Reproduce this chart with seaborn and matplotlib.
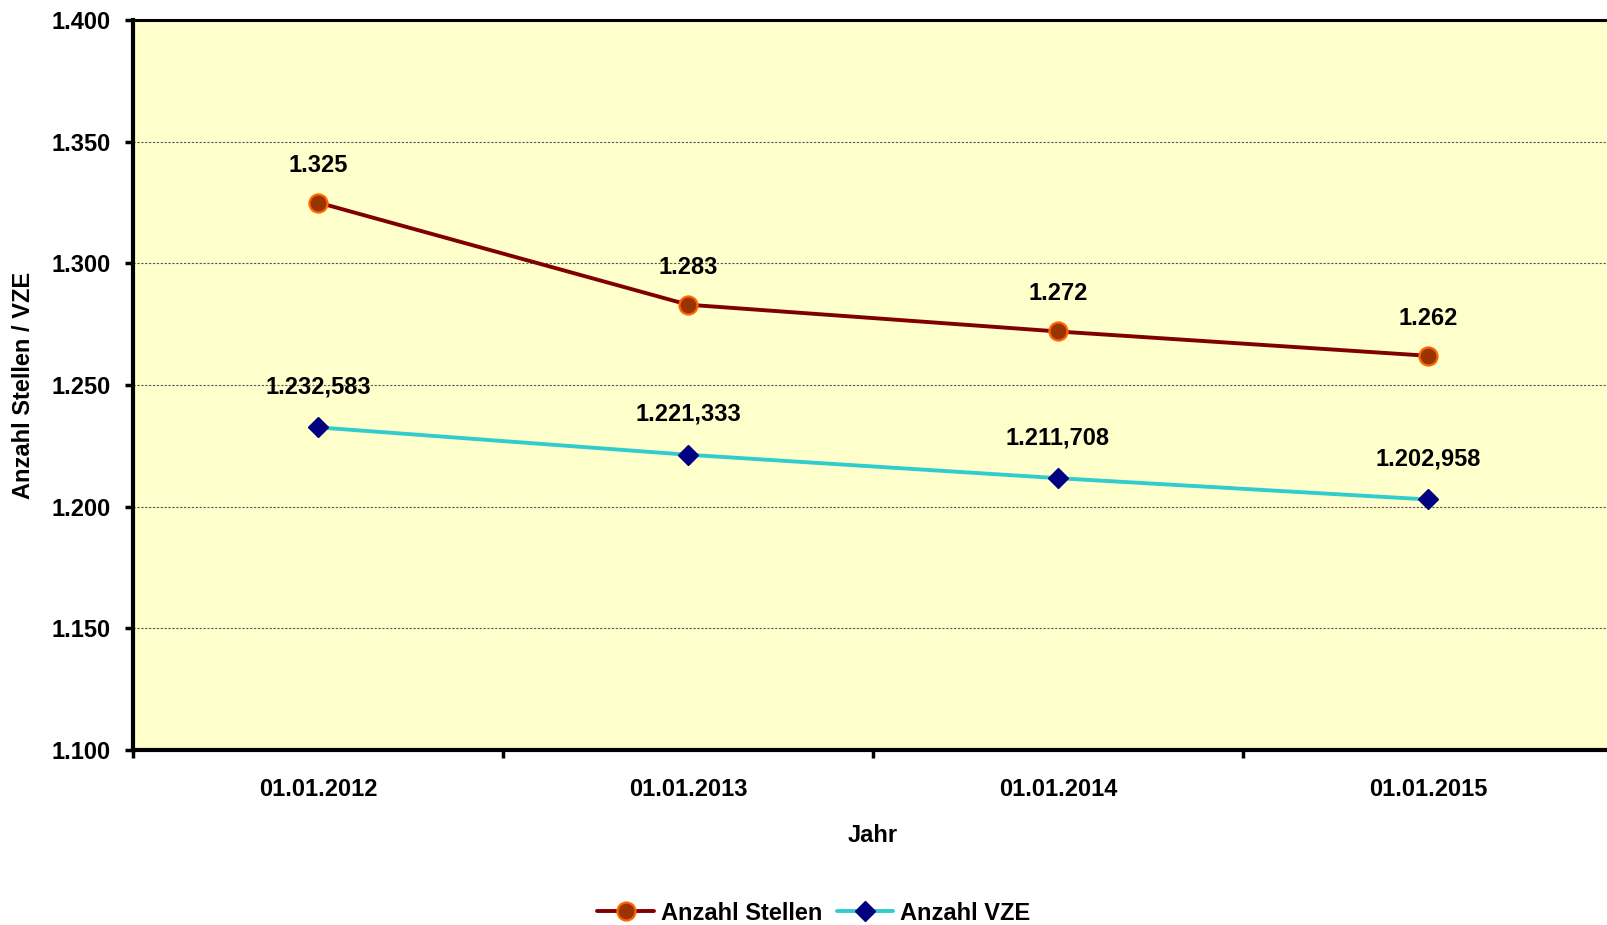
import numpy as np
import pandas as pd
import seaborn as sns
import matplotlib.pyplot as plt
from matplotlib.ticker import FixedLocator, FuncFormatter

jahre = ['01.01.2012', '01.01.2013', '01.01.2014', '01.01.2015']
stellen = [1325, 1283, 1272, 1262]
vze = [1232.583, 1221.333, 1211.708, 1202.958]

df = pd.DataFrame({'pos': np.arange(len(jahre)), 'jahr': jahre, 'stellen': stellen, 'vze': vze})


def de_fmt(v, dec=0):
    # German number format: 1.232,583
    s = f"{v:,.{dec}f}"
    return s.replace(',', 'X').replace('.', ',').replace('X', '.')


sns.set_style('white')
plt.rcParams['font.family'] = ['Liberation Sans', 'DejaVu Sans']
plt.rcParams['font.weight'] = 'bold'
for key in ['text.color', 'axes.labelcolor', 'xtick.color', 'ytick.color']:
    plt.rcParams[key] = 'black'

fig = plt.figure(figsize=(16.08, 9.25), dpi=100)
ax = fig.add_axes([133 / 1608, 175 / 925, 1480 / 1608, 730 / 925])
ax.set_facecolor('#FFFFCC')

sns.lineplot(data=df, x='pos', y='stellen', ax=ax, color='#800000', lw=2.8,
             marker='o', markersize=13, markerfacecolor='#993300',
             markeredgecolor='#FF6600', markeredgewidth=1.6,
             label='Anzahl Stellen', zorder=4)
sns.lineplot(data=df, x='pos', y='vze', ax=ax, color='#33CCCC', lw=2.8,
             marker='D', markersize=10.5, markerfacecolor='#000080',
             markeredgecolor='#000080', markeredgewidth=1,
             label='Anzahl VZE', zorder=4)

for x, v in zip(df['pos'], stellen):
    ax.annotate(de_fmt(v), (x, v), xytext=(0, 27), textcoords='offset points',
                ha='center', va='center', fontsize=17, fontweight='bold', zorder=5)
for x, v in zip(df['pos'], vze):
    ax.annotate(de_fmt(v, 3), (x, v), xytext=(0, 29), textcoords='offset points',
                ha='center', va='center', fontsize=17, fontweight='bold', zorder=5)

ax.set_xlim(-0.5, 3.5)
ax.set_ylim(1100, 1400)
ax.yaxis.set_major_locator(FixedLocator(np.arange(1100, 1401, 50)))
ax.yaxis.set_major_formatter(FuncFormatter(lambda v, p: de_fmt(v)))
ax.grid(axis='y', color='#555555', lw=0.8, linestyle=(0, (2, 1.5)))
ax.set_axisbelow(True)

# tick marks between categories, labels at the category centres
ax.xaxis.set_major_locator(FixedLocator(np.arange(-0.5, 3.6, 1)))
ax.xaxis.set_major_formatter(FuncFormatter(lambda v, p: ''))
ax.xaxis.set_minor_locator(FixedLocator(df['pos']))
ax.set_xticklabels(jahre, minor=True)
ax.tick_params(axis='x', which='major', bottom=True, direction='out', length=6, width=2.5, color='black')
ax.tick_params(axis='x', which='minor', bottom=True, length=0, pad=20, labelsize=17)
ax.tick_params(axis='y', left=True, direction='out', length=6, width=2.5, color='black', pad=10, labelsize=17)
for lab in ax.get_xticklabels(minor=True) + ax.get_yticklabels():
    lab.set_fontweight('bold')

for side in ['left', 'bottom']:
    ax.spines[side].set_linewidth(3)
    ax.spines[side].set_color('black')
ax.spines['top'].set_linewidth(2.2)
ax.spines['top'].set_color('black')
ax.spines['right'].set_visible(False)

ax.set_xlabel('Jahr', fontsize=17, fontweight='bold')
ax.xaxis.set_label_coords(0.5, -0.101)
ax.set_ylabel('Anzahl Stellen / VZE', fontsize=17, fontweight='bold')
ax.yaxis.set_label_coords(-0.066, 0.5)

ax.get_legend().remove()
handles, labels = ax.get_legend_handles_labels()
fig.legend(handles, labels, loc='center', bbox_to_anchor=(814 / 1608, 1 - 913 / 925),
           ncol=2, frameon=False, handlelength=2.4, handletextpad=0.3,
           columnspacing=0.6, prop={'size': 17, 'weight': 'bold'})

fig.savefig('out.png', dpi=100, facecolor='white')
